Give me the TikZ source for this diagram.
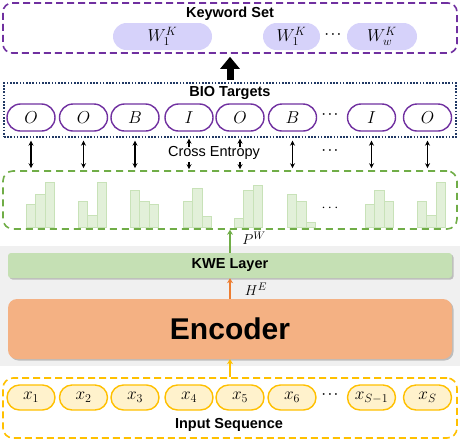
\documentclass[tikz,border=0pt]{standalone}
\usepackage{fontspec}
\setmainfont{Liberation Sans}
\usetikzlibrary{arrows.meta,shapes.misc,shadows}

\definecolor{kwpurple}{RGB}{112,48,160}
\definecolor{kwlav}{RGB}{214,210,250}
\definecolor{bionavy}{RGB}{32,56,100}
\definecolor{histgreen}{RGB}{112,173,71}
\definecolor{barfill}{RGB}{226,240,217}
\definecolor{barline}{RGB}{200,226,184}
\definecolor{kwefill}{RGB}{197,224,180}
\definecolor{encfill}{RGB}{244,177,131}
\definecolor{encline}{RGB}{237,125,49}
\definecolor{inpyellow}{RGB}{255,192,0}
\definecolor{inpfill}{RGB}{255,242,204}
\definecolor{bggray}{RGB}{240,240,240}

\tikzset{
  grpbox/.style={draw, line width=1.6pt, minimum width=454pt, inner sep=0pt},
  ttl/.style={font=\fontsize{14.5}{16}\selectfont\bfseries},
  pillfont/.style={font=\fontsize{17}{19}\selectfont},
  kwpill/.style={rounded rectangle, fill=kwlav, minimum height=27pt, inner sep=0pt, pillfont},
  biopill/.style={rounded rectangle, draw=kwpurple, line width=1.4pt, fill=white,
    minimum width=48pt, minimum height=27pt, inner sep=0pt, pillfont},
  inpill/.style={rounded rectangle, draw=inpyellow, line width=1.4pt, fill=inpfill,
    minimum width=48pt, minimum height=25pt, inner sep=0pt, pillfont},
  dotsnode/.style={font=\large\boldmath},
  mathlbl/.style={font=\fontsize{15}{17}\selectfont},
  bar/.style={fill=barfill, draw=barline, line width=0.8pt},
  dblarr/.style={{Stealth[length=5pt,width=5pt]}-{Stealth[length=5pt,width=5pt]}, line width=1.2pt},
  tiparr/.style={-{Stealth[length=5pt,width=5pt]}, line width=1.2pt},
  uparr/.style={-{Stealth[length=5pt,width=6pt]}, line width=2pt},
  layerbox/.style={rounded corners=#1, minimum width=444pt, inner sep=0pt,
    drop shadow={shadow xshift=1.5pt,shadow yshift=-1.5pt,fill=black!45}},
}

\begin{document}
\begin{tikzpicture}[x=1pt,y=-1pt]
  \useasboundingbox (0,0) rectangle (460,440);
  \pgfmathsetmacro\base{227}   % foot of the bars
  \pgfmathsetmacro\bw{9.5}     % width of one bar

% grey band behind the model
  \fill[bggray] (0,246) rectangle (460,366);

% keyword set
  \node[grpbox, draw=kwpurple, dash pattern=on 7pt off 4pt, rounded corners=9pt, minimum height=50pt] (kwset) at (230,28) {};
  \node[ttl] (kwtitle) at (230,14) {Keyword Set};
  \node[kwpill, minimum width=99pt] (w1) at (162.5,36.5) {$W_1^K$};
  \node[kwpill, minimum width=57pt] (w2) at (291.5,36.5) {$W_1^K$};
  \node[dotsnode] (wdots) at (333,35) {$\cdots$};
  \node[kwpill, minimum width=70pt] (w3) at (382,36.5) {$W_w^K$};

% BIO targets
  \node[grpbox, draw=bionavy, dash pattern=on 1.6pt off 1.6pt, minimum width=452pt, minimum height=54pt] (bio) at (230,110) {};
  \node[ttl] (biotitle) at (230,93) {BIO Targets};
  \node[biopill] (b1) at (31,117.5) {$O$};
  \node[biopill] (b2) at (83.5,117.5) {$O$};
  \node[biopill] (b3) at (135,117.5) {$B$};
  \node[biopill] (b4) at (189,117.5) {$I$};
  \node[biopill] (b5) at (240,117.5) {$O$};
  \node[biopill] (b6) at (292.5,117.5) {$B$};
  \node[dotsnode] (bdots) at (330,115) {$\cdots$};
  \node[biopill] (b7) at (371.5,117.5) {$I$};
  \node[biopill] (b8) at (427.5,117.5) {$O$};

  \draw[line width=7pt, -{Triangle[length=12pt,width=19pt]}, shorten <=2pt, shorten >=3pt] (bio.north) -- (kwset.south);

% predicted distributions
  \node[grpbox, draw=histgreen, dash pattern=on 7pt off 5pt, rounded corners=10pt, minimum height=58pt] (hist) at (230,200) {};
  \draw[bar] (26,\base) rectangle ++(\bw,-23) (35.5,\base) rectangle ++(\bw,-33) (45,\base) rectangle ++(\bw,-45);
  \draw[bar] (78,\base) rectangle ++(\bw,-26) (87.5,\base) rectangle ++(\bw,-12) (97,\base) rectangle ++(\bw,-45);
  \draw[bar] (130,\base) rectangle ++(\bw,-37) (139.5,\base) rectangle ++(\bw,-26) (149,\base) rectangle ++(\bw,-23);
  \draw[bar] (183,\base) rectangle ++(\bw,-26) (192.5,\base) rectangle ++(\bw,-39) (202,\base) rectangle ++(\bw,-11);
  \draw[bar] (234,\base) rectangle ++(\bw,-9) (243.5,\base) rectangle ++(\bw,-37) (253,\base) rectangle ++(\bw,-42);
  \draw[bar] (287,\base) rectangle ++(\bw,-33) (296.5,\base) rectangle ++(\bw,-26) (306,\base) rectangle ++(\bw,-5);
  \draw[bar] (365,\base) rectangle ++(\bw,-23) (374.5,\base) rectangle ++(\bw,-37) (384,\base) rectangle ++(\bw,-26);
  \draw[bar] (417,\base) rectangle ++(\bw,-26) (426.5,\base) rectangle ++(\bw,-12) (436,\base) rectangle ++(\bw,-45);
  \node[font=\Large] (hdots) at (330,208) {$\cdots$};

% cross entropy between targets and distributions
  \node[font=\fontsize{14.5}{16}\selectfont] (ce) at (214,153) {Cross Entropy};
  \node[dotsnode] (cedots) at (330,151) {$\cdots$};
  \draw[dblarr] ([yshift=-9pt]b1.south) -- ([yshift=2pt]b1.south |- hist.north);
  \draw[dblarr] ([yshift=-9pt]b2.south) -- ([yshift=2pt]b2.south |- hist.north);
  \draw[dblarr] ([yshift=-9pt]b3.south) -- ([yshift=2pt]b3.south |- hist.north);
  \draw[tiparr] ([yshift=-15pt]b4.south) -- ([yshift=-7pt]b4.south);
  \draw[tiparr] ([yshift=8pt]b4.south |- hist.north) -- ([yshift=1pt]b4.south |- hist.north);
  \draw[tiparr] ([yshift=-15pt]b5.south) -- ([yshift=-7pt]b5.south);
  \draw[tiparr] ([yshift=8pt]b5.south |- hist.north) -- ([yshift=1pt]b5.south |- hist.north);
  \draw[dblarr] ([yshift=-9pt]b6.south) -- ([yshift=2pt]b6.south |- hist.north);
  \draw[dblarr] ([yshift=-9pt]b7.south) -- ([yshift=2pt]b7.south |- hist.north);
  \draw[dblarr] ([yshift=-9pt]b8.south) -- ([yshift=2pt]b8.south |- hist.north);

% KWE layer and encoder
  \node[layerbox=3pt, fill=kwefill, minimum height=25pt, ttl] (kwe) at (230,265.5) {KWE Layer};
  \node[layerbox=9pt, fill=encfill, minimum height=60pt, font=\fontsize{30}{32}\selectfont\bfseries] (enc) at (230,329) {Encoder};
  \draw[uparr, histgreen] (kwe.north) -- (hist.south);
  \node[mathlbl] (pw) at (254,238) {$P^W$};
  \draw[uparr, encline] (enc.north) -- (kwe.south);
  \node[mathlbl] (he) at (256,289) {$H^E$};

% input sequence
  \node[grpbox, draw=inpyellow, dash pattern=on 7pt off 4pt, rounded corners=10pt, minimum height=60pt] (inp) at (230,408) {};
  \node[inpill] (x1) at (31,397.5) {$x_1$};
  \node[inpill] (x2) at (83.5,397.5) {$x_2$};
  \node[inpill] (x3) at (135,397.5) {$x_3$};
  \node[inpill] (x4) at (189,397.5) {$x_4$};
  \node[inpill] (x5) at (240,397.5) {$x_5$};
  \node[inpill] (x6) at (292,397.5) {$x_6$};
  \node[dotsnode] (xdots) at (330,395) {$\cdots$};
  \node[inpill] (x7) at (371.5,397.5) {$x_{S-1}$};
  \node[inpill] (x8) at (427.5,397.5) {$x_S$};
  \node[ttl] (inptitle) at (229,425) {Input Sequence};
  \draw[uparr, inpyellow] (inp.north) -- (enc.south);
\end{tikzpicture}
\end{document}
